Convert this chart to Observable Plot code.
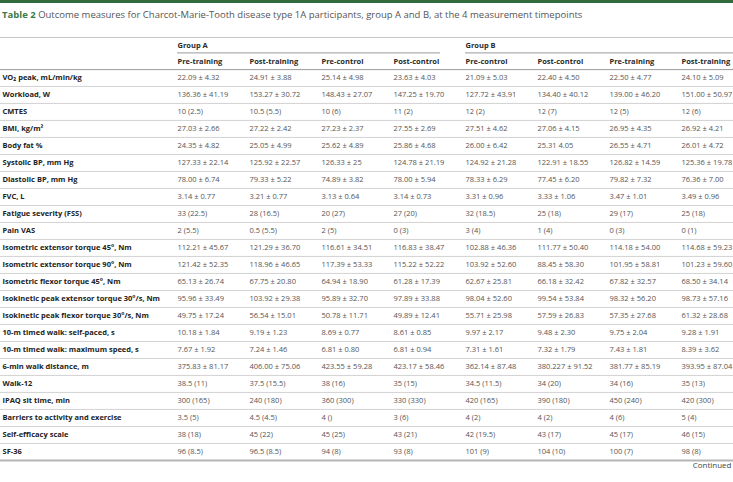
<!DOCTYPE html>
<html>
<head>
<meta charset="utf-8">
<script src="https://cdn.jsdelivr.net/npm/d3@7"></script>
<script src="https://cdn.jsdelivr.net/npm/@observablehq/plot@0.6"></script>
<style>
  body { margin:0; background:#fff; width:733px; height:482px; overflow:hidden; font-family:"Open Sans", sans-serif; }
  #bar { height:3px; background:#2f6b3d; }
  #title { height:23px; line-height:24px; font-size:9.5px; color:#555; padding-left:2px; white-space:nowrap; }
  #title b { color:#3c7a4a; font-weight:700; }
  #chart svg { display:block; }
</style>
</head>
<body>
<div id="bar"></div>
<div id="title"><b>Table 2</b> Outcome measures for Charcot-Marie-Tooth disease type 1A participants, group A and B, at the 4 measurement timepoints</div>
<div id="chart"></div>
<script>
const measures = ["VO₂ peak, mL/min/kg","Workload, W","CMTES","BMI, kg/m²","Body fat %","Systolic BP, mm Hg","Diastolic BP, mm Hg","FVC, L","Fatigue severity (FSS)","Pain VAS","Isometric extensor torque 45°, Nm","Isometric extensor torque 90°, Nm","Isometric flexor torque 45°, Nm","Isokinetic peak extensor torque 30°/s, Nm","Isokinetic peak flexor torque 30°/s, Nm","10-m timed walk: self-paced, s","10-m timed walk: maximum speed, s","6-min walk distance, m","Walk-12","IPAQ sit time, min","Barriers to activity and exercise","Self-efficacy scale","SF-36"];

const groups = ["Group A", "Group B"];
const timepoints = ["Pre-training","Post-training","Pre-control","Post-control","Pre-control","Post-control","Pre-training","Post-training"];

const groupA_preTraining = ["22.09 ± 4.32","136.36 ± 41.19","10 (2.5)","27.03 ± 2.66","24.35 ± 4.82","127.33 ± 22.14","78.00 ± 6.74","3.14 ± 0.77","33 (22.5)","2 (5.5)","112.21 ± 45.67","121.42 ± 52.35","65.13 ± 26.74","95.96 ± 33.49","49.75 ± 17.24","10.18 ± 1.84","7.67 ± 1.92","375.83 ± 81.17","38.5 (11)","300 (165)","3.5 (5)","38 (18)","96 (8.5)"];
const groupA_postTraining = ["24.91 ± 3.88","153.27 ± 30.72","10.5 (5.5)","27.22 ± 2.42","25.05 ± 4.99","125.92 ± 22.57","79.33 ± 5.22","3.21 ± 0.77","28 (16.5)","0.5 (5.5)","121.29 ± 36.70","118.96 ± 46.65","67.75 ± 20.80","103.92 ± 29.38","56.54 ± 15.01","9.19 ± 1.23","7.24 ± 1.46","406.00 ± 75.06","37.5 (15.5)","240 (180)","4.5 (4.5)","45 (22)","96.5 (8.5)"];
const groupA_preControl = ["25.14 ± 4.98","148.43 ± 27.07","10 (6)","27.23 ± 2.37","25.62 ± 4.89","126.33 ± 25","74.89 ± 3.82","3.13 ± 0.64","20 (27)","2 (5)","116.61 ± 34.51","117.39 ± 53.33","64.94 ± 18.90","95.89 ± 32.70","50.78 ± 11.71","8.69 ± 0.77","6.81 ± 0.80","423.55 ± 59.28","38 (16)","360 (300)","4 ()","45 (25)","94 (8)"];
const groupA_postControl = ["23.63 ± 4.03","147.25 ± 19.70","11 (2)","27.55 ± 2.69","25.86 ± 4.68","124.78 ± 21.19","78.00 ± 5.94","3.14 ± 0.73","27 (20)","0 (3)","116.83 ± 38.47","115.22 ± 52.22","61.28 ± 17.39","97.89 ± 33.88","49.89 ± 12.41","8.61 ± 0.85","6.81 ± 0.94","423.17 ± 58.46","35 (15)","330 (330)","3 (6)","43 (21)","93 (8)"];
const groupB_preControl = ["21.09 ± 5.03","127.72 ± 43.91","12 (2)","27.51 ± 4.62","26.00 ± 6.42","124.92 ± 21.28","78.33 ± 6.29","3.31 ± 0.96","32 (18.5)","3 (4)","102.88 ± 46.36","103.92 ± 52.60","62.67 ± 25.81","98.04 ± 52.60","55.71 ± 25.98","9.97 ± 2.17","7.31 ± 1.61","362.14 ± 87.48","34.5 (11.5)","420 (165)","4 (2)","42 (19.5)","101 (9)"];
const groupB_postControl = ["22.40 ± 4.50","134.40 ± 40.12","12 (7)","27.06 ± 4.15","25.31 4.05","122.91 ± 18.55","77.45 ± 6.20","3.33 ± 1.06","25 (18)","1 (4)","111.77 ± 50.40","88.45 ± 58.30","66.18 ± 32.42","99.54 ± 53.84","57.59 ± 26.83","9.48 ± 2.30","7.32 ± 1.79","380.227 ± 91.52","34 (20)","390 (180)","4 (2)","43 (17)","104 (10)"];
const groupB_preTraining = ["22.50 ± 4.77","139.00 ± 46.20","12 (5)","26.95 ± 4.35","26.55 ± 4.71","126.82 ± 14.59","79.82 ± 7.32","3.47 ± 1.01","29 (17)","0 (3)","114.18 ± 54.00","101.95 ± 58.81","67.82 ± 32.57","98.32 ± 56.20","57.35 ± 27.68","9.75 ± 2.04","7.43 ± 1.81","381.77 ± 85.19","34 (16)","450 (240)","4 (6)","45 (17)","100 (7)"];
const groupB_postTraining = ["24.10 ± 5.09","151.00 ± 50.97","12 (6)","26.92 ± 4.21","26.01 ± 4.72","125.36 ± 19.78","76.36 ± 7.00","3.49 ± 0.96","25 (18)","0 (1)","114.68 ± 59.23","101.23 ± 59.60","68.50 ± 34.14","98.73 ± 57.16","61.32 ± 28.68","9.28 ± 1.91","8.39 ± 3.62","393.95 ± 87.04","35 (13)","420 (300)","5 (4)","46 (15)","98 (8)"];

const footer = "Continued";

// build table
const series = [groupA_preTraining, groupA_postTraining, groupA_preControl, groupA_postControl,
                groupB_preControl, groupB_postControl, groupB_preTraining, groupB_postTraining];
const colKeys = series.map((_, i) => "c" + i);
const cells = [];
series.forEach((vals, i) => vals.forEach((v, j) => cells.push({col: colKeys[i], row: measures[j], value: v})));
const headers = timepoints.map((t, i) => ({col: colKeys[i], text: t}));
const groupHeads = [{col: colKeys[0], text: groups[0]}, {col: colKeys[4], text: groups[1]}];

const yDomain = ["group", "sub", ...measures, "footer"];
const step = 17.85;
const y0 = 6.3;
const font = "Open Sans";

const chart = Plot.plot({
  width: 733,
  height: 456,
  margin: 0,
  style: {fontFamily: font, background: "#fff"},
  x: {type: "point", domain: colKeys, range: [175, 683], padding: 0, axis: null},
  y: {type: "point", domain: yDomain, range: [y0, y0 + step * (yDomain.length - 1)], padding: 0, axis: null},
  marks: [
    // line under title
    Plot.ruleY(["group"], {dy: -6, stroke: "#c8c8c8", strokeWidth: 1}),
    // lines under group headings
    Plot.ruleY([groupHeads[0]], {y: () => "group", x1: () => colKeys[0], x2: () => colKeys[3], insetRight: -47, dy: 9.4, stroke: "#9a9a9a"}),
    Plot.ruleY([groupHeads[1]], {y: () => "group", x1: () => colKeys[4], x2: () => colKeys[7], insetRight: -60, dy: 9.4, stroke: "#9a9a9a"}),
    // line under sub header
    Plot.ruleY(["sub"], {dy: 9.1, stroke: "#9a9a9a"}),
    // row separators
    Plot.ruleY(measures.slice(0, -1), {dy: step / 2, stroke: "#d2d2d2"}),
    Plot.ruleY(measures.slice(-1), {dy: step / 2, stroke: "#b5b5b5", strokeWidth: 2}),
    // headers
    Plot.text(groupHeads, {x: "col", y: () => "group", text: "text", dy: 2.2, textAnchor: "start", fontWeight: "bold", fontSize: 7.5, fill: "#2a2a2a"}),
    Plot.text(headers, {x: "col", y: () => "sub", text: "text", dy: 0.8, textAnchor: "start", fontWeight: "bold", fontSize: 7.5, fill: "#2a2a2a"}),
    // row labels
    Plot.text(measures, {y: d => d, text: d => d, frameAnchor: "left", textAnchor: "start", dx: 2, fontWeight: "bold", fontSize: 7.5, fill: "#222"}),
    // values
    Plot.text(cells, {x: "col", y: "row", text: "value", textAnchor: "start", fontSize: 7.5, fill: "#555"}),
    // footer
    Plot.text([footer], {y: () => "footer", text: d => d, frameAnchor: "right", textAnchor: "end", dx: -2, dy: -2.6, fontSize: 8, fill: "#444"})
  ]
});
document.getElementById("chart").appendChild(chart);
</script>
</body>
</html>
